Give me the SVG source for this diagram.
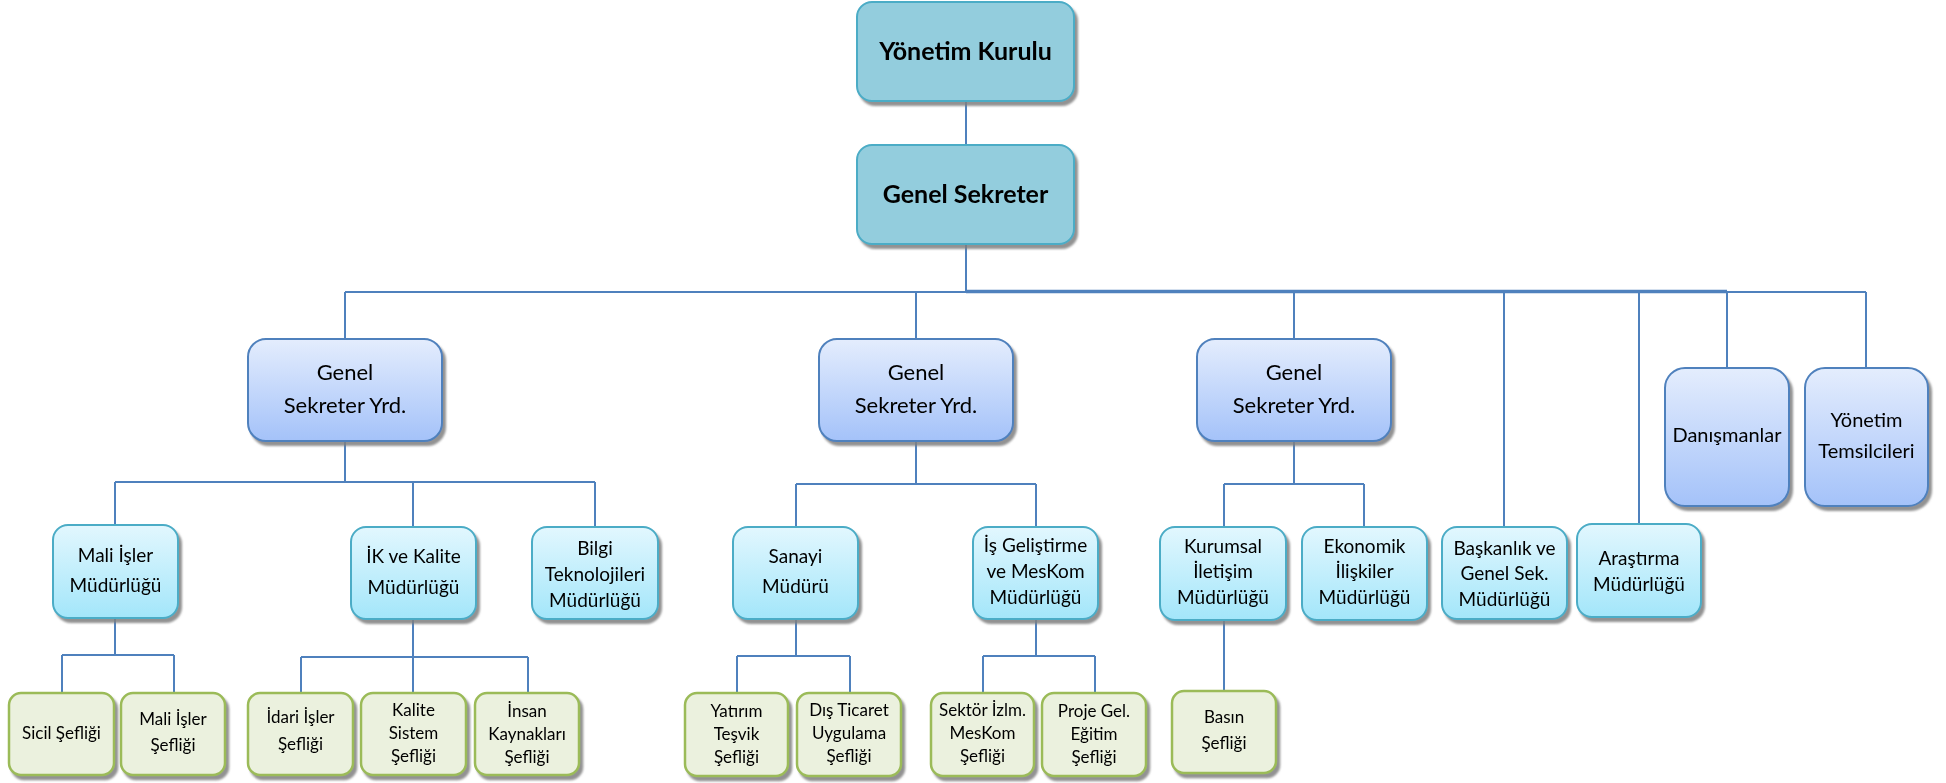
<svg xmlns="http://www.w3.org/2000/svg" width="1946" height="783" viewBox="0 0 1946 783">
<style>
text{font-family:Lato,"Open Sans","Liberation Sans",sans-serif;fill:#000;text-anchor:middle}
.top rect{fill:#93CDDD;stroke:#4BACC6;stroke-width:2}
.top text{font-size:25px;font-weight:bold}
.gsy rect{fill:url(#gBlue);stroke:#4F81BD;stroke-width:2}
.gsy text{font-size:22px}
.side text{font-size:20px}
.mid rect{fill:url(#gCyan);stroke:#4BACC6;stroke-width:2}
.mid text{font-size:19px}
.bot rect{fill:#EBF1DE;stroke:#9BBB59;stroke-width:2.5}
.bot text{font-size:17px}
#connectors path{fill:none;stroke:#4F81BD;stroke-width:2}
</style>
<defs>
<linearGradient id="gBlue" x1="0" y1="0" x2="0" y2="1"><stop offset="0" stop-color="#E4EDFD"/><stop offset="1" stop-color="#A4C2F9"/></linearGradient>
<linearGradient id="gCyan" x1="0" y1="0" x2="0" y2="1"><stop offset="0" stop-color="#E2F7FE"/><stop offset="1" stop-color="#A3E6FA"/></linearGradient>
<filter id="sh" x="-10%" y="-10%" width="125%" height="130%"><feDropShadow dx="3" dy="4" stdDeviation="1.2" flood-color="#7F7F7F" flood-opacity="0.85"/></filter>
</defs>
<rect width="1946" height="783" fill="#fff"/>
<g id="connectors">
<path d="M966 101V145M966 244V292M345 292H966"/>
<path d="M966 291.5H1727" style="stroke-width:3.5"/>
<path d="M1727 292H1866"/>
<path d="M345 292V339M916 292V339M1294 292V339M1504 292V527M1639 292V524M1727 292V368M1866 292V368"/>
<path d="M345 441V482M115 482H595M115 482V525M413 482V527M595 482V527"/>
<path d="M916 441V484M796 484H1036M796 484V527M1036 484V527"/>
<path d="M1294 441V484M1224 484H1364M1224 484V527M1364 484V527"/>
<path d="M115 618V655M62 655H174M62 655V693M174 655V693"/>
<path d="M413 619V657M301 657H528M301 657V693M413 657V693M528 657V693"/>
<path d="M796 619V656M737 656H850M737 656V693M850 656V693"/>
<path d="M1036 619V656M983 656H1095M983 656V693M1095 656V693"/>
<path d="M1224 620V691"/>
</g>
<g id="yonetim-kurulu" class="top" filter="url(#sh)"><rect x="857" y="2" width="217" height="99" rx="15"/><text x="965.5" y="60">Yönetim Kurulu</text></g>
<g id="genel-sekreter" class="top" filter="url(#sh)"><rect x="857" y="145" width="217" height="99" rx="15"/><text x="965.5" y="203">Genel Sekreter</text></g>
<g id="gsy1" class="gsy" filter="url(#sh)"><rect x="248" y="339" width="194" height="102" rx="18"/><text x="345" y="380">Genel</text><text x="345" y="413">Sekreter Yrd.</text></g>
<g id="gsy2" class="gsy" filter="url(#sh)"><rect x="819" y="339" width="194" height="102" rx="18"/><text x="916" y="380">Genel</text><text x="916" y="413">Sekreter Yrd.</text></g>
<g id="gsy3" class="gsy" filter="url(#sh)"><rect x="1197" y="339" width="194" height="102" rx="18"/><text x="1294" y="380">Genel</text><text x="1294" y="413">Sekreter Yrd.</text></g>
<g id="danismanlar" class="gsy side" filter="url(#sh)"><rect x="1665" y="368" width="124" height="138" rx="20"/><text x="1727" y="442">Danışmanlar</text></g>
<g id="yonetim-temsilcileri" class="gsy side" filter="url(#sh)"><rect x="1805" y="368" width="123" height="138" rx="20"/><text x="1866.5" y="427">Yönetim</text><text x="1866.5" y="458">Temsilcileri</text></g>
<g id="mali-isler-mud" class="mid" filter="url(#sh)"><rect x="53" y="525" width="125" height="93" rx="15"/><text x="115.5" y="562">Mali İşler</text><text x="115.5" y="592">Müdürlüğü</text></g>
<g id="ik-kalite-mud" class="mid" filter="url(#sh)"><rect x="351" y="527" width="125" height="92" rx="15"/><text x="413.5" y="563">İK ve Kalite</text><text x="413.5" y="594">Müdürlüğü</text></g>
<g id="bilgi-tek-mud" class="mid" filter="url(#sh)"><rect x="532" y="527" width="126" height="92" rx="15"/><text x="595" y="555">Bilgi</text><text x="595" y="581">Teknolojileri</text><text x="595" y="607">Müdürlüğü</text></g>
<g id="sanayi-mud" class="mid" filter="url(#sh)"><rect x="733" y="527" width="125" height="92" rx="15"/><text x="795.5" y="563">Sanayi</text><text x="795.5" y="593">Müdürü</text></g>
<g id="is-gelistirme-mud" class="mid" filter="url(#sh)"><rect x="973" y="527" width="125" height="92" rx="15"/><text x="1035.5" y="552">İş Geliştirme</text><text x="1035.5" y="578">ve MesKom</text><text x="1035.5" y="604">Müdürlüğü</text></g>
<g id="kurumsal-iletisim-mud" class="mid" filter="url(#sh)"><rect x="1160" y="527" width="126" height="93" rx="15"/><text x="1223" y="553">Kurumsal</text><text x="1223" y="578">İletişim</text><text x="1223" y="604">Müdürlüğü</text></g>
<g id="ekonomik-iliskiler-mud" class="mid" filter="url(#sh)"><rect x="1302" y="527" width="125" height="93" rx="15"/><text x="1364.5" y="553">Ekonomik</text><text x="1364.5" y="578">İlişkiler</text><text x="1364.5" y="604">Müdürlüğü</text></g>
<g id="baskanlik-mud" class="mid" filter="url(#sh)"><rect x="1442" y="527" width="125" height="92" rx="15"/><text x="1504.5" y="555">Başkanlık ve</text><text x="1504.5" y="580">Genel Sek.</text><text x="1504.5" y="606">Müdürlüğü</text></g>
<g id="arastirma-mud" class="mid" filter="url(#sh)"><rect x="1577" y="524" width="124" height="93" rx="15"/><text x="1639" y="565">Araştırma</text><text x="1639" y="591">Müdürlüğü</text></g>
<g id="sicil-sef" class="bot" filter="url(#sh)"><rect x="9" y="693" width="105" height="82" rx="12"/><text x="61.5" y="739">Sicil Şefliği</text></g>
<g id="mali-isler-sef" class="bot" filter="url(#sh)"><rect x="121" y="693" width="104" height="82" rx="12"/><text x="173" y="725">Mali İşler</text><text x="173" y="751">Şefliği</text></g>
<g id="idari-isler-sef" class="bot" filter="url(#sh)"><rect x="248" y="693" width="105" height="82" rx="12"/><text x="300.5" y="723">İdari İşler</text><text x="300.5" y="750">Şefliği</text></g>
<g id="kalite-sistem-sef" class="bot" filter="url(#sh)"><rect x="361" y="693" width="105" height="82" rx="12"/><text x="413.5" y="716">Kalite</text><text x="413.5" y="739">Sistem</text><text x="413.5" y="762">Şefliği</text></g>
<g id="insan-kaynaklari-sef" class="bot" filter="url(#sh)"><rect x="475" y="693" width="104" height="82" rx="12"/><text x="527" y="717">İnsan</text><text x="527" y="740">Kaynakları</text><text x="527" y="763">Şefliği</text></g>
<g id="yatirim-tesvik-sef" class="bot" filter="url(#sh)"><rect x="685" y="693" width="103" height="83" rx="12"/><text x="736.5" y="717">Yatırım</text><text x="736.5" y="740">Teşvik</text><text x="736.5" y="763">Şefliği</text></g>
<g id="dis-ticaret-sef" class="bot" filter="url(#sh)"><rect x="797" y="693" width="104" height="83" rx="12"/><text x="849" y="716">Dış Ticaret</text><text x="849" y="739">Uygulama</text><text x="849" y="762">Şefliği</text></g>
<g id="sektor-izlm-sef" class="bot" filter="url(#sh)"><rect x="931" y="693" width="103" height="83" rx="12"/><text x="982.5" y="716">Sektör İzlm.</text><text x="982.5" y="739">MesKom</text><text x="982.5" y="762">Şefliği</text></g>
<g id="proje-gel-sef" class="bot" filter="url(#sh)"><rect x="1042" y="693" width="104" height="83" rx="12"/><text x="1094" y="717">Proje Gel.</text><text x="1094" y="740">Eğitim</text><text x="1094" y="763">Şefliği</text></g>
<g id="basin-sef" class="bot" filter="url(#sh)"><rect x="1172" y="691" width="104" height="82" rx="12"/><text x="1224" y="723">Basın</text><text x="1224" y="749">Şefliği</text></g>
</svg>
